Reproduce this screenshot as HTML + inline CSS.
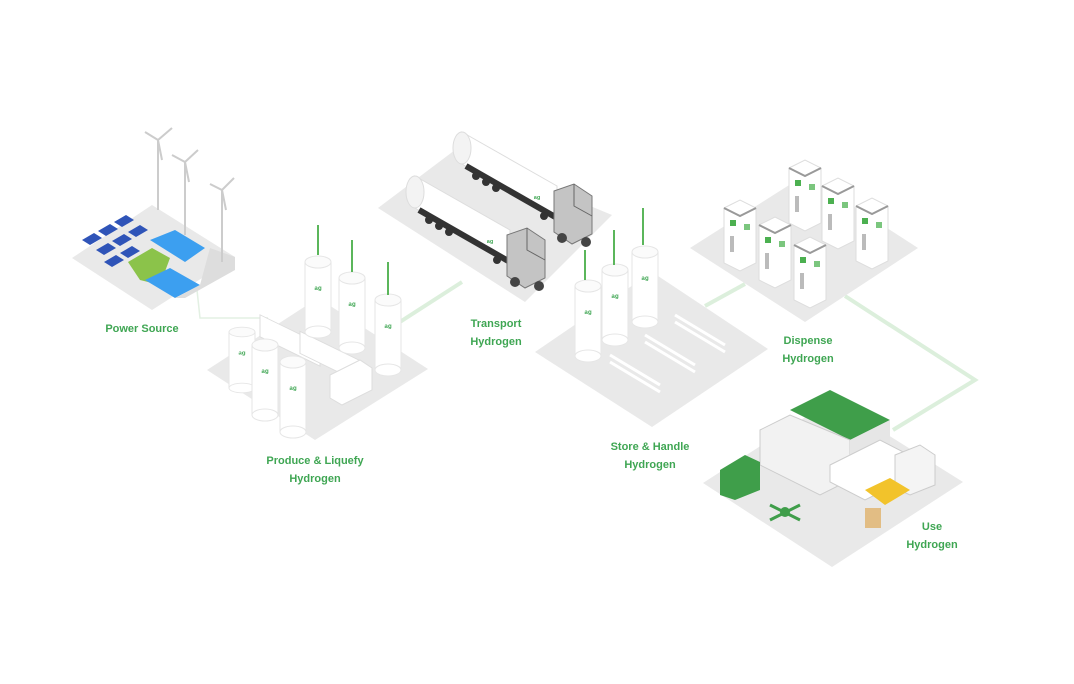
<!DOCTYPE html>
<html><head><meta charset="utf-8"><style>
html,body{margin:0;padding:0;background:#fff;width:1074px;height:684px;overflow:hidden}
svg{display:block}
text{font-family:"Liberation Sans",sans-serif;font-weight:bold;font-size:11px;fill:#3fa653;text-anchor:middle}
</style></head><body>
<svg width="1074" height="684" viewBox="0 0 1074 684">
<defs>
<g id="cyl"><rect x="-13" y="0" width="26" height="70" fill="#fff" stroke="#e6e6e6"/><ellipse cx="0" cy="70" rx="13" ry="6" fill="#fff" stroke="#e6e6e6"/><ellipse cx="0" cy="0" rx="13" ry="6" fill="#fbfbfb" stroke="#e6e6e6"/><text x="0" y="30" style="font-size:9px">ᵃᵍ</text></g>
<g id="disp"><path d="M-16 0 L0 -8 L16 0 L16 55 L0 63 L-16 55Z" fill="#fff" stroke="#ddd"/><path d="M-16 0 L0 8 L16 0" fill="none" stroke="#999" stroke-width="2"/><rect x="-10" y="12" width="6" height="6" fill="#4cb050"/><rect x="4" y="16" width="6" height="6" fill="#7bc67e"/><rect x="-10" y="28" width="4" height="16" fill="#bbb"/></g>
<g id="truck">
<path d="M0 -14 L95 40 L95 72 L0 18Z" fill="#fff" stroke="#ddd"/>
<ellipse cx="0" cy="2" rx="9" ry="16" fill="#f3f3f3" stroke="#ddd"/>
<path d="M4 20 L95 72" stroke="#333" stroke-width="6"/>
<circle cx="14" cy="30" r="4" fill="#333"/><circle cx="24" cy="36" r="4" fill="#333"/><circle cx="34" cy="42" r="4" fill="#333"/><circle cx="82" cy="70" r="4" fill="#333"/>
<text x="75" y="55" style="font-size:8px">ᵃᵍ</text>
<path d="M92 45 L112 38 L130 50 L130 88 L110 98 L92 86Z" fill="#c4c4c4" stroke="#777"/>
<path d="M112 38 L112 60 L130 70" fill="none" stroke="#666"/>
<circle cx="100" cy="92" r="5" fill="#444"/><circle cx="124" cy="96" r="5" fill="#444"/>
</g>
</defs>
<g stroke="#dcefdc" stroke-width="4" fill="none">
<path d="M378 336 L462 282"/>
<path d="M705 306 L745 284"/>
<path d="M845 296 L975 380 L893 430"/>
</g>
<path d="M197 290 L200 318 L268 318" stroke="#e3f0e3" stroke-width="1.5" fill="none"/>
<g fill="#e9e9e9">
<path d="M72 258 L152 205 L235 257 L152 310Z"/>
<path d="M207 370 L318 298 L428 369 L315 440Z"/>
<path d="M378 208 L455 150 L612 215 L525 302Z"/>
<path d="M535 352 L652 272 L768 349 L652 427Z"/>
<path d="M690 248 L805 175 L918 248 L805 322Z"/>
<path d="M703 483 L832 400 L963 482 L832 567Z"/>
</g>
<g fill="#2f54b8">
<path d="M82 240 l12 -7 l8 5 l-12 7z"/><path d="M98 231 l12 -7 l8 5 l-12 7z"/><path d="M114 222 l12 -7 l8 5 l-12 7z"/>
<path d="M96 250 l12 -7 l8 5 l-12 7z"/><path d="M112 241 l12 -7 l8 5 l-12 7z"/><path d="M128 232 l12 -7 l8 5 l-12 7z"/>
<path d="M104 262 l12 -7 l8 5 l-12 7z"/><path d="M120 253 l12 -7 l8 5 l-12 7z"/>
</g>
<path d="M128 262 L152 248 L170 258 L160 285 L140 280Z" fill="#8bc34a"/>
<path d="M150 240 L175 230 L205 248 L185 262Z" fill="#3c9ff0"/>
<path d="M145 280 L170 268 L200 285 L175 298Z" fill="#3c9ff0"/>
<path d="M210 248 L235 257 L235 270 L185 298 L175 298 L200 285Z" fill="#ddd"/>
<g stroke="#ccc" stroke-width="2" fill="none">
<path d="M158 210 L158 140 M145 132 L158 140 L172 128 M158 140 L162 160"/>
<path d="M185 235 L185 162 M172 155 L185 162 L198 150 M185 162 L189 182"/>
<path d="M222 262 L222 190 M210 184 L222 190 L234 178 M222 190 L226 210"/>
</g>
<text x="142" y="332">Power Source</text>
<rect x="260" y="328" width="60" height="22" fill="#fff" stroke="#ddd" transform="skewY(26) translate(0,-140)"/>
<rect x="300" y="345" width="60" height="22" fill="#fff" stroke="#ddd" transform="skewY(26) translate(0,-160)"/>
<use href="#cyl" x="242" y="332" transform="scale(1,0.8) translate(0,83)"/>
<use href="#cyl" x="265" y="345"/>
<use href="#cyl" x="293" y="362"/>
<use href="#cyl" x="318" y="262"/>
<use href="#cyl" x="352" y="278"/>
<use href="#cyl" x="388" y="300"/>
<path d="M330 375 L360 360 L372 368 L372 390 L342 405 L330 398Z" fill="#fff" stroke="#ddd"/>
<g stroke="#5bb65b" stroke-width="2"><path d="M318 225 V255 M352 240 V272 M388 262 V295"/></g>
<text x="315" y="464">Produce &amp; Liquefy</text>
<text x="315" y="482">Hydrogen</text>
<use href="#truck" x="415" y="190"/>
<use href="#truck" x="462" y="146"/>
<text x="496" y="327">Transport</text>
<text x="496" y="345">Hydrogen</text>
<use href="#cyl" x="588" y="286"/>
<use href="#cyl" x="615" y="270"/>
<use href="#cyl" x="645" y="252"/>
<g stroke="#5bb65b" stroke-width="2"><path d="M585 250 V280 M614 230 V265 M643 208 V245"/></g>
<g stroke="#fff" stroke-width="3"><path d="M610 355 L660 385 M610 362 L660 392 M645 335 L695 365 M645 342 L695 372 M675 315 L725 345 M675 322 L725 352"/></g>
<text x="650" y="450">Store &amp; Handle</text>
<text x="650" y="468">Hydrogen</text>
<use href="#disp" x="805" y="168"/>
<use href="#disp" x="838" y="186"/>
<use href="#disp" x="872" y="206"/>
<use href="#disp" x="740" y="208"/>
<use href="#disp" x="775" y="225"/>
<use href="#disp" x="810" y="245"/>
<text x="808" y="344">Dispense</text>
<text x="808" y="362">Hydrogen</text>
<path d="M790 410 L830 390 L890 420 L850 440Z" fill="#3f9e4a"/>
<path d="M760 430 L790 415 L850 440 L850 480 L820 495 L760 465Z" fill="#f2f2f2" stroke="#ccc"/>
<path d="M850 440 L890 420 L890 460 L850 480Z" fill="#e6e6e6"/>
<path d="M720 470 L745 455 L760 462 L760 490 L735 500 L720 495Z" fill="#3f9e4a"/>
<path d="M830 465 L880 440 L915 458 L915 475 L865 500 L830 482Z" fill="#fff" stroke="#ccc"/>
<path d="M895 455 L920 445 L935 455 L935 485 L910 495 L895 488Z" fill="#f4f4f4" stroke="#ccc"/>
<path d="M865 490 L890 478 L910 490 L885 505Z" fill="#f2c32b"/>
<rect x="865" y="508" width="16" height="20" fill="#e2bd84"/>
<path d="M770 505 L800 520 M800 505 L770 520" stroke="#3f9e4a" stroke-width="3"/>
<circle cx="785" cy="512" r="5" fill="#3f9e4a"/>
<text x="932" y="530">Use</text>
<text x="932" y="548">Hydrogen</text>
</svg>
</body></html>
